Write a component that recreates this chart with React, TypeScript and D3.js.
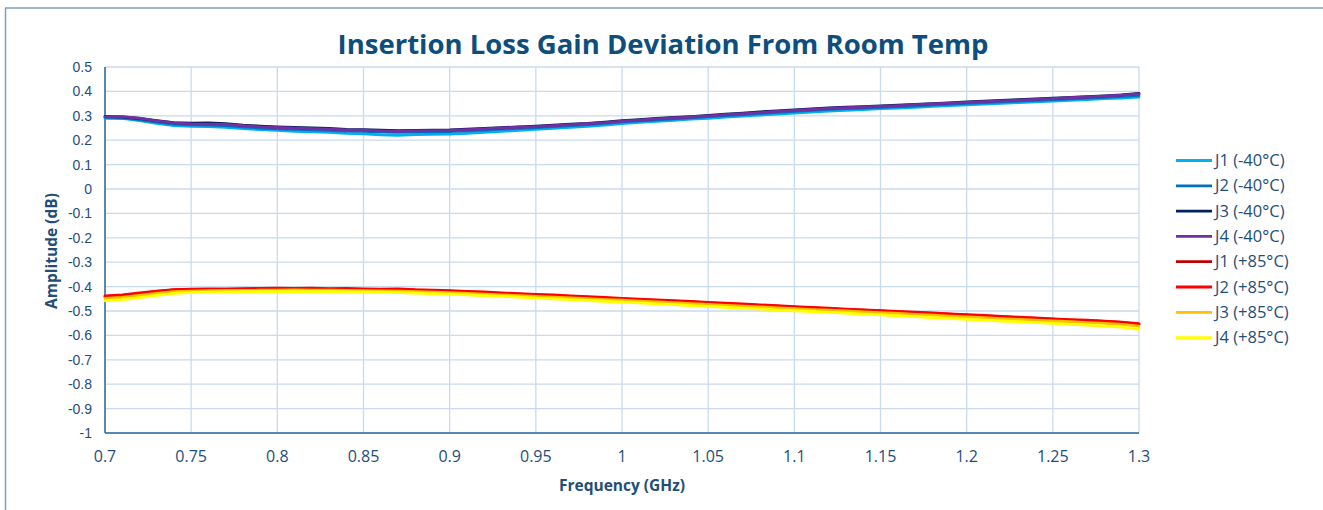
import React from "react";
import * as d3 from "d3";

const freqStart = 0.7;
const freqStep = 0.01;

const j1Cold = [0.290,0.289,0.280,0.269,0.260,0.257,0.256,0.253,0.248,0.243,
0.240,0.236,0.234,0.232,0.228,0.226,0.222,0.220,0.223,0.224,
0.225,0.228,0.232,0.236,0.240,0.244,0.249,0.253,0.257,0.262,
0.268,0.273,0.277,0.281,0.286,0.290,0.295,0.299,0.303,0.307,
0.311,0.315,0.319,0.322,0.325,0.329,0.332,0.335,0.339,0.342,
0.345,0.348,0.351,0.354,0.357,0.360,0.363,0.366,0.370,0.373,0.377];
const j2Cold = [0.294,0.292,0.284,0.274,0.266,0.263,0.262,0.260,0.255,0.250,
0.247,0.244,0.242,0.240,0.237,0.236,0.233,0.232,0.233,0.234,
0.235,0.238,0.241,0.245,0.249,0.252,0.256,0.260,0.264,0.269,
0.275,0.279,0.283,0.287,0.292,0.297,0.301,0.305,0.310,0.314,
0.318,0.322,0.326,0.329,0.332,0.335,0.338,0.341,0.345,0.348,
0.351,0.354,0.357,0.360,0.363,0.366,0.369,0.373,0.376,0.380,0.384];
const j3Cold = [0.298,0.296,0.289,0.280,0.272,0.270,0.271,0.268,0.262,0.258,
0.255,0.252,0.250,0.248,0.244,0.243,0.241,0.239,0.240,0.241,
0.242,0.245,0.248,0.251,0.255,0.258,0.262,0.266,0.269,0.274,
0.280,0.284,0.289,0.293,0.297,0.302,0.307,0.311,0.316,0.320,
0.324,0.328,0.332,0.335,0.338,0.341,0.344,0.347,0.350,0.353,
0.357,0.360,0.363,0.366,0.369,0.372,0.375,0.378,0.382,0.386,0.392];
const j4Cold = [0.296,0.297,0.290,0.279,0.271,0.267,0.266,0.265,0.260,0.255,
0.252,0.249,0.247,0.245,0.242,0.241,0.238,0.236,0.238,0.239,
0.240,0.243,0.246,0.250,0.253,0.256,0.260,0.264,0.268,0.272,
0.278,0.282,0.287,0.291,0.295,0.300,0.305,0.309,0.313,0.318,
0.322,0.326,0.330,0.333,0.336,0.339,0.342,0.346,0.349,0.352,
0.355,0.358,0.361,0.364,0.367,0.370,0.374,0.377,0.381,0.385,0.390];
const j1Hot = [-0.441,-0.437,-0.429,-0.420,-0.414,-0.412,-0.411,-0.410,-0.410,-0.409,
-0.409,-0.408,-0.409,-0.410,-0.410,-0.411,-0.412,-0.413,-0.415,-0.417,
-0.419,-0.422,-0.425,-0.428,-0.431,-0.434,-0.437,-0.440,-0.443,-0.447,
-0.450,-0.454,-0.457,-0.460,-0.463,-0.467,-0.470,-0.474,-0.477,-0.480,
-0.484,-0.487,-0.490,-0.494,-0.497,-0.500,-0.504,-0.507,-0.510,-0.513,
-0.517,-0.520,-0.523,-0.527,-0.530,-0.533,-0.537,-0.540,-0.543,-0.547,-0.555];
const j2Hot = [-0.438,-0.434,-0.426,-0.419,-0.412,-0.410,-0.409,-0.410,-0.408,-0.407,
-0.406,-0.407,-0.406,-0.408,-0.407,-0.409,-0.410,-0.409,-0.413,-0.415,
-0.417,-0.420,-0.422,-0.426,-0.429,-0.432,-0.434,-0.438,-0.441,-0.444,
-0.448,-0.451,-0.455,-0.458,-0.461,-0.465,-0.468,-0.471,-0.475,-0.478,
-0.482,-0.485,-0.488,-0.492,-0.495,-0.499,-0.502,-0.505,-0.508,-0.512,
-0.515,-0.518,-0.522,-0.525,-0.528,-0.532,-0.535,-0.538,-0.542,-0.546,-0.552];
const j3Hot = [-0.448,-0.444,-0.436,-0.428,-0.421,-0.419,-0.417,-0.416,-0.416,-0.415,
-0.415,-0.414,-0.415,-0.415,-0.416,-0.417,-0.418,-0.419,-0.421,-0.423,
-0.425,-0.428,-0.431,-0.434,-0.437,-0.440,-0.443,-0.446,-0.449,-0.453,
-0.456,-0.460,-0.463,-0.466,-0.470,-0.473,-0.477,-0.480,-0.483,-0.487,
-0.490,-0.494,-0.497,-0.500,-0.504,-0.507,-0.510,-0.514,-0.517,-0.521,
-0.524,-0.527,-0.531,-0.534,-0.537,-0.541,-0.544,-0.548,-0.551,-0.555,-0.562];
const j4Hot = [-0.458,-0.453,-0.445,-0.436,-0.428,-0.425,-0.423,-0.422,-0.421,-0.420,
-0.420,-0.419,-0.420,-0.420,-0.421,-0.422,-0.423,-0.425,-0.427,-0.429,
-0.431,-0.434,-0.437,-0.440,-0.443,-0.447,-0.450,-0.453,-0.457,-0.460,
-0.464,-0.467,-0.471,-0.474,-0.478,-0.481,-0.485,-0.488,-0.492,-0.495,
-0.499,-0.502,-0.506,-0.509,-0.513,-0.516,-0.520,-0.523,-0.527,-0.530,
-0.534,-0.537,-0.541,-0.544,-0.548,-0.551,-0.555,-0.558,-0.562,-0.566,-0.575];

const seriesNames = ["J1 (-40°C)", "J2 (-40°C)", "J3 (-40°C)", "J4 (-40°C)", "J1 (+85°C)", "J2 (+85°C)", "J3 (+85°C)", "J4 (+85°C)"];
const seriesValues = [j1Cold, j2Cold, j3Cold, j4Cold, j1Hot, j2Hot, j3Hot, j4Hot];
const seriesColors = ["#00b0f0", "#0070c0", "#002060", "#7030a0", "#c00000", "#ff0000", "#ffc000", "#ffff00"];

const xTicks = [0.7, 0.75, 0.8, 0.85, 0.9, 0.95, 1, 1.05, 1.1, 1.15, 1.2, 1.25, 1.3];
const yTicks = [0.5, 0.4, 0.3, 0.2, 0.1, 0, -0.1, -0.2, -0.3, -0.4, -0.5, -0.6, -0.7, -0.8, -0.9, -1];

const W = 1323, H = 510;
const plot = { left: 105, right: 1139, top: 67, bottom: 433 };
const textColor = "#1f4e79";

export default function App() {
  const x = d3.scaleLinear().domain([0.7, 1.3]).range([plot.left, plot.right]);
  const y = d3.scaleLinear().domain([-1, 0.5]).range([plot.bottom, plot.top]);
  const line = d3.line<number>()
    .x((_, i) => x(freqStart + i * freqStep))
    .y((v) => y(v))
    .curve(d3.curveLinear);

  return (
    <svg width={W} height={H} style={{ position: "absolute", left: 0, top: 0, background: "#fff" }}>
      <rect x={0} y={0} width={W} height={H} fill="#fff" />
      {/* frame */}
      <line x1={5.5} y1={8} x2={5.5} y2={H} stroke="#7f9fb8" strokeWidth={1.5} />
      <line x1={5} y1={8} x2={W} y2={8} stroke="#7f9fb8" strokeWidth={1.5} />
      {/* title */}
      <text x={663} y={54} textAnchor="middle" fontFamily="'Open Sans', sans-serif" fontWeight={700} fontSize={27.5} fill="#0e4e7c">
        Insertion Loss Gain Deviation From Room Temp
      </text>
      {/* grid */}
      {xTicks.map((t) => (
        <line key={"gx" + t} x1={x(t)} x2={x(t)} y1={plot.top} y2={plot.bottom} stroke="#c9daee" strokeWidth={1.3} />
      ))}
      {yTicks.map((t) => (
        <line key={"gy" + t} x1={plot.left} x2={plot.right} y1={y(t)} y2={y(t)} stroke="#c9daee" strokeWidth={1.3} />
      ))}
      {/* axes */}
      <line x1={plot.left} x2={plot.left} y1={plot.top} y2={plot.bottom} stroke="#2e6a99" strokeWidth={1.5} />
      <line x1={plot.left} x2={plot.right} y1={plot.bottom} y2={plot.bottom} stroke="#2e6a99" strokeWidth={1.5} />
      {/* y tick labels */}
      {yTicks.map((t) => (
        <text key={"ty" + t} x={92} y={y(t) + 5} textAnchor="end" fontFamily="'Liberation Sans', Arial, sans-serif" fontSize={14} fill={textColor}>
          {String(+t.toFixed(1))}
        </text>
      ))}
      {/* x tick labels */}
      {xTicks.map((t) => (
        <text key={"tx" + t} x={x(t)} y={462} textAnchor="middle" fontFamily="'Open Sans', sans-serif" fontSize={16} fill={textColor}>
          {String(+t.toFixed(2))}
        </text>
      ))}
      {/* axis titles */}
      <text x={622} y={491} textAnchor="middle" fontFamily="'Open Sans', sans-serif" fontWeight={700} fontSize={15.5} fill={textColor}>
        Frequency (GHz)
      </text>
      <text transform={`translate(57,251) rotate(-90)`} textAnchor="middle" fontFamily="'Open Sans', sans-serif" fontWeight={700} fontSize={15.5} fill={textColor}>
        Amplitude (dB)
      </text>
      {/* series */}
      <g>
        {seriesValues.map((vals, i) => (
          <path key={"s" + i} d={line(vals) || ""} fill="none" stroke={seriesColors[i]} strokeWidth={2.8} strokeLinejoin="round" strokeLinecap="round" />
        ))}
      </g>
      {/* legend */}
      {seriesNames.map((n, i) => {
        const ly = 160.5 + i * 25.3;
        return (
          <g key={"l" + i}>
            <line x1={1176} x2={1212} y1={ly} y2={ly} stroke={seriesColors[i]} strokeWidth={2.8} />
            <text x={1215} y={ly + 5.5} fontFamily="'Open Sans', sans-serif" fontSize={16.5} fill={textColor}>
              {n}
            </text>
          </g>
        );
      })}
    </svg>
  );
}
